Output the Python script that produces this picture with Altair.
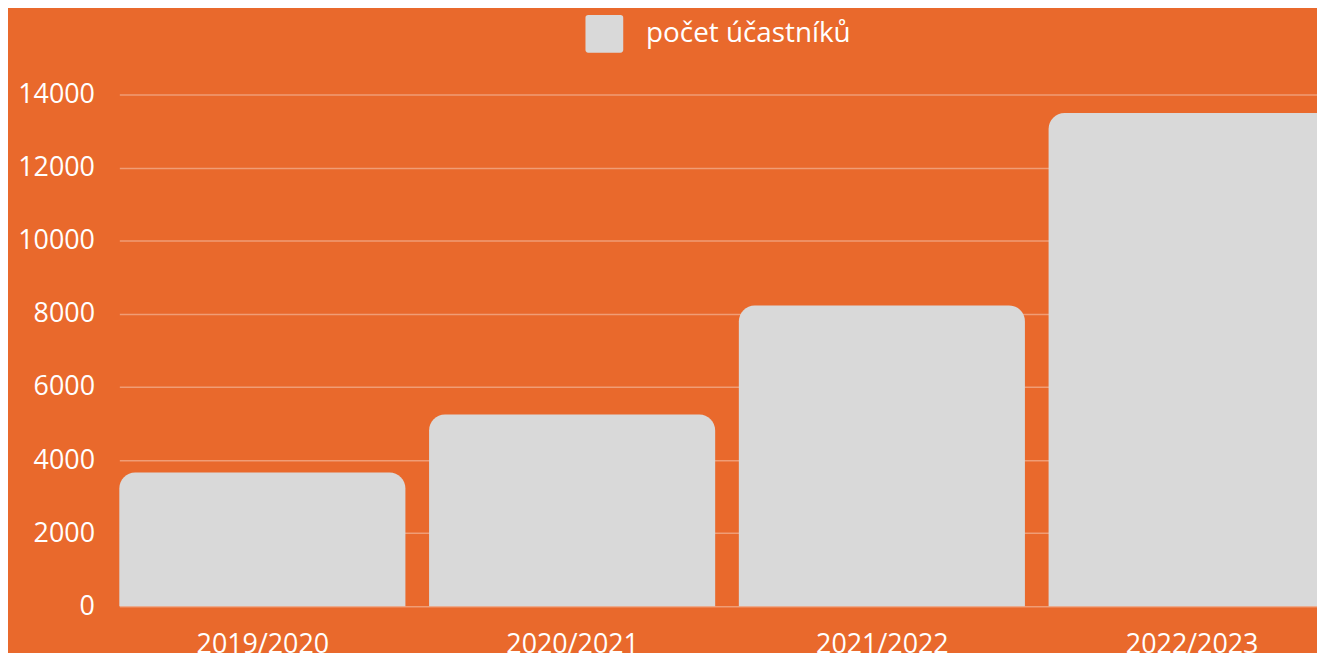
import altair as alt
import pandas as pd

years = ["2019/2020", "2020/2021", "2021/2022", "2022/2023"]
participants = [3660, 5245, 8230, 13490]
series_name = "počet účastníků"

df = pd.DataFrame({
    "idx": list(range(len(years))),
    "rok": years,
    "pocet": participants,
    "serie": [series_name] * len(years),
})

BG = "#E9692C"
BAR = "#D9D9D9"
FONT = "Open Sans"

HALF = 0.4618  # half bar width in category steps
SPAN = 3.8665  # visible category steps across the plot width
label_expr = "[" + ",".join("'" + y + "'" for y in years) + "][datum.value]"

rounded_square = "M-0.85,-1 L0.85,-1 Q1,-1 1,-0.85 L1,0.85 Q1,1 0.85,1 L-0.85,1 Q-1,1 -1,0.85 L-1,-0.85 Q-1,-1 -0.85,-1 Z"

chart = alt.Chart(df).transform_calculate(
    x0=f"datum.idx - {HALF}", x1=f"datum.idx + {HALF}"
).mark_bar(
    cornerRadiusTopLeft=16, cornerRadiusTopRight=16, orient="vertical"
).encode(
    x=alt.X("x0:Q", title=None,
            scale=alt.Scale(domain=[-HALF, -HALF + SPAN], nice=False,
                            zero=False, padding=0),
            axis=alt.Axis(values=list(range(len(years))), labelExpr=label_expr,
                          labelAngle=0, labelFontSize=27, labelColor="white",
                          labelFont=FONT, labelPadding=25, ticks=False, domain=False,
                          grid=False, labelFlush=False, labelOverlap=False)),
    x2="x1:Q",
    y=alt.Y("pocet:Q", title=None,
            scale=alt.Scale(domain=[0, 14000], nice=False, padding=0),
            axis=alt.Axis(values=list(range(0, 14001, 2000)), format="d",
                          labelFontSize=27, labelColor="white", labelFont=FONT,
                          labelPadding=25, ticks=False, domain=False,
                          gridColor="white", gridOpacity=0.35, gridWidth=1.5)),
    y2=alt.Y2(datum=0),
    color=alt.Color("serie:N", scale=alt.Scale(range=[BAR]),
                    legend=alt.Legend(title=None, orient="none", legendX=469, legendY=-80,
                                      symbolType=rounded_square, symbolSize=1444,
                                      symbolStrokeWidth=0, symbolFillColor=BAR,
                                      labelFontSize=28, labelColor="white",
                                      labelFont=FONT, labelOffset=23, labelLimit=0)),
).properties(
    width=1205, height=515,
    background=BG,
    padding={"left": 112, "top": 85, "right": 0, "bottom": 45},
    autosize=alt.AutoSizeParams(type="none"),
).configure_view(stroke=None)

chart.save("out.html", embed_options={"renderer": "svg", "actions": False})
